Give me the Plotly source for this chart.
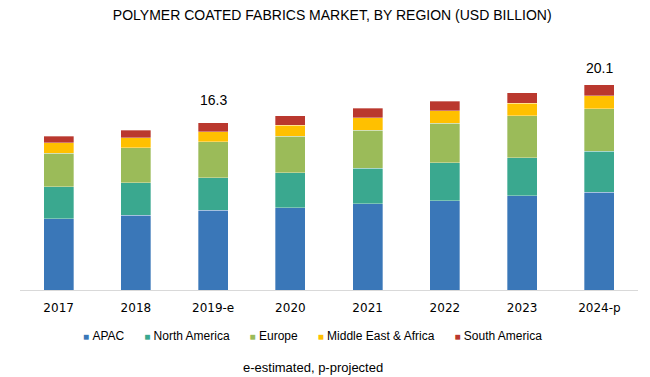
import plotly.graph_objects as go

years = ["2017", "2018", "2019-e", "2020", "2021", "2022", "2023", "2024-p"]
apac = [6.97, 7.33, 7.79, 8.04, 8.44, 8.73, 9.19, 9.58]
north_america = [3.10, 3.16, 3.19, 3.42, 3.46, 3.71, 3.74, 3.98]
europe = [3.29, 3.42, 3.52, 3.59, 3.74, 3.88, 4.08, 4.16]
mea = [1.04, 0.98, 0.98, 1.05, 1.20, 1.20, 1.27, 1.27]
south_america = [0.65, 0.72, 0.85, 0.94, 0.92, 0.95, 0.98, 1.08]
total_labels = {"2019-e": "16.3", "2024-p": "20.1"}
total_label_shift = {"2019-e": 23, "2024-p": 17}

series = [
    ("APAC", apac, "#3A77B8"),
    ("North America", north_america, "#3AA88F"),
    ("Europe", europe, "#9BBB59"),
    ("Middle East & Africa", mea, "#FFC000"),
    ("South America", south_america, "#BA382E"),
]

fig = go.Figure()
for name, vals, col in series:
    fig.add_trace(go.Bar(
        x=years, y=vals, name=name, marker_color=col,
        marker_line=dict(width=0.6, color="rgba(255,255,255,0.55)"),
        showlegend=False,
    ))

totals = [sum(v) for v in zip(apac, north_america, europe, mea, south_america)]
for yr, tot in zip(years, totals):
    if yr in total_labels:
        fig.add_annotation(x=yr, y=tot, text=total_labels[yr], showarrow=False,
                           yanchor="middle", yshift=total_label_shift[yr],
                           font=dict(family="Liberation Sans", size=14, color="#000"))

# compact legend row built from the series list
legend_items = []
for name, _, col in series:
    safe = name.replace("&", "&amp;")
    legend_items.append(f"<span style='color:{col};font-size:10px'>■</span>&nbsp;{safe}")
legend_text = "&nbsp;" * 6
legend_text = legend_text.join(legend_items)
fig.add_annotation(xref="paper", yref="paper", x=0.474, y=-46/230,
                   text=legend_text, showarrow=False,
                   yanchor="middle", xanchor="center",
                   font=dict(family="Liberation Sans", size=12, color="#000"))

fig.add_annotation(xref="paper", yref="paper", x=0.474, y=-77/230,
                   text="e-estimated, p-projected", showarrow=False,
                   yanchor="middle", xanchor="center",
                   font=dict(family="Liberation Sans", size=13, color="#000"))

fig.update_layout(
    width=642, height=369,
    margin=dict(l=12, r=12, t=52, b=87),
    barmode="stack", bargap=0.61,
    plot_bgcolor="white", paper_bgcolor="white",
    showlegend=False,
    title=dict(text="POLYMER COATED FABRICS MARKET, BY REGION (USD BILLION)",
               x=0.505, xanchor="center", y=1 - 7/369, yanchor="middle",
               font=dict(family="Liberation Sans", size=14, color="#000")),
    xaxis=dict(showline=True, linecolor="#D9D9D9", linewidth=1, showgrid=False,
               ticks="", ticklabelstandoff=7,
               tickfont=dict(family="DejaVu Sans", size=12, color="#000")),
    yaxis=dict(range=[0, 230/10.23], visible=False, showgrid=False),
)

fig.write_html("out.html")
